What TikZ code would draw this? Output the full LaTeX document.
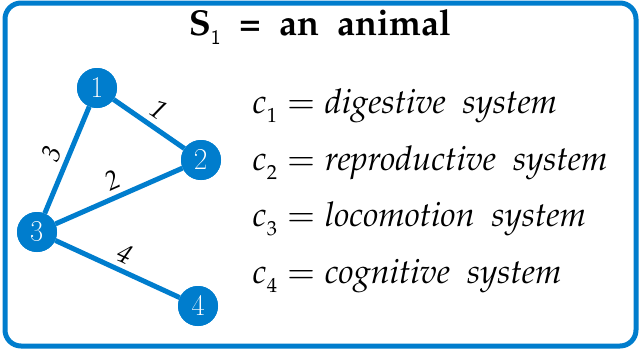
\documentclass[tikz,border=0pt]{standalone}
\usepackage[T1]{fontenc}
\usepackage{mathpazo}
\definecolor{bblue}{RGB}{0,125,205}
\newcommand{\lowsub}[1]{_{\lower4pt\hbox{$\scriptscriptstyle #1$}}}
\tikzset{
  vtx/.style={circle, fill=bblue, minimum size=40pt, inner sep=0pt, text=white, font=\fontfamily{lmr}\fontsize{31}{34}\selectfont},
  edg/.style={draw=bblue, line width=5pt},
  elab/.style={midway, above, sloped, inner sep=5pt, text=black, font=\fontsize{27}{30}\selectfont\itshape},
  cline/.style={anchor=base west, inner sep=0pt, font=\fontsize{34}{40}\selectfont}
}
\begin{document}
\begin{tikzpicture}[x=1pt,y=-1pt]
\useasboundingbox (0,0) rectangle (640,349);
\draw[bblue, line width=5pt, rounded corners=16pt] (5,3) rectangle (636,346);
\node[anchor=base, inner sep=0pt, font=\fontsize{36}{40}\selectfont\bfseries] (title) at (320,35) {S$\lowsub{\mathsf{1}}$\ \ =\ \ an\ \ animal};
\node[vtx] (n1) at (97,88) {};
\node[vtx] (n2) at (201,160) {};
\node[vtx] (n3) at (37,232) {};
\node[vtx] (n4) at (198,306) {};
\draw[edg] (n1) -- node[elab] {1} (n2);
\draw[edg] (n3) -- node[elab] {3} (n1);
\draw[edg] (n3) -- node[elab] {2} (n2);
\draw[edg] (n3) -- node[elab] {4} (n4);
\node[vtx] at (n1) {1};
\node[vtx] at (n2) {2};
\node[vtx] at (n3) {3};
\node[vtx] at (n4) {4};
\node[cline] (c1) at (252,113) {$c\lowsub{1} = \textit{digestive\ \ system}$};
\node[cline] (c2) at (252,170) {$c\lowsub{2} = \textit{reproductive\ \ system}$};
\node[cline] (c3) at (252,226) {$c\lowsub{3} = \textit{locomotion\ \ system}$};
\node[cline] (c4) at (252,283) {$c\lowsub{4} = \textit{cognitive\ \ system}$};
\end{tikzpicture}
\end{document}
